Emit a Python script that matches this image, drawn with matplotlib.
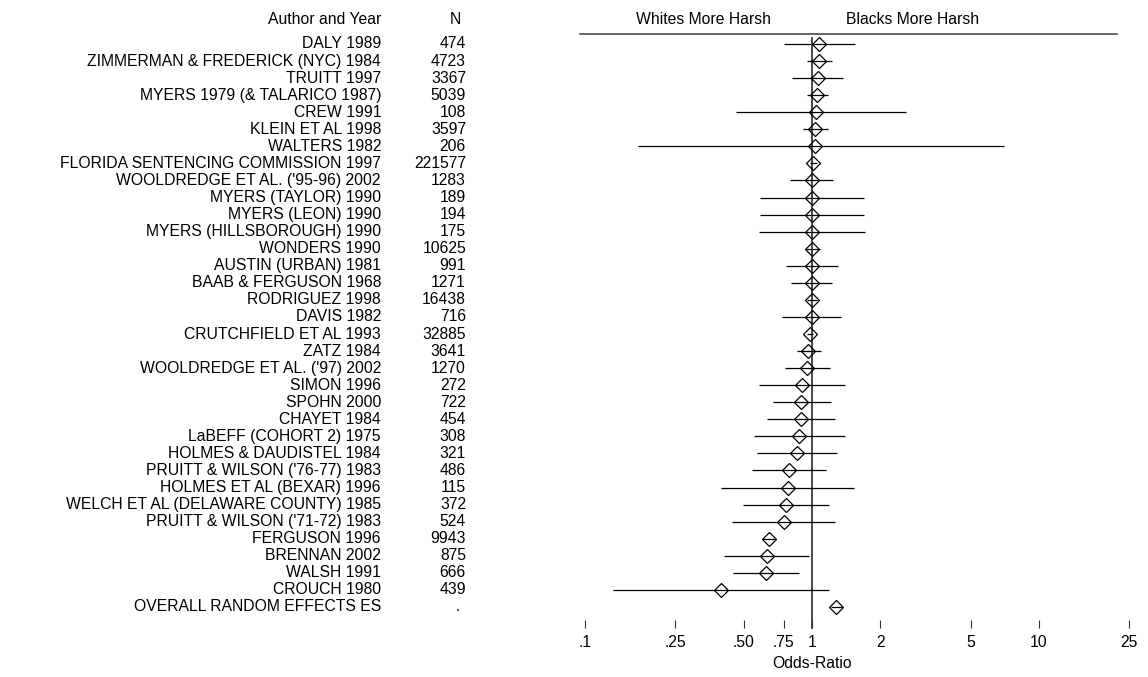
import matplotlib
matplotlib.use("Agg")
import matplotlib.pyplot as plt
from matplotlib.transforms import blended_transform_factory

plt.rcParams['font.family'] = ['Liberation Sans', 'DejaVu Sans']

authors = [
    "DALY 1989", "ZIMMERMAN & FREDERICK (NYC) 1984", "TRUITT 1997",
    "MYERS 1979 (& TALARICO 1987)", "CREW 1991", "KLEIN ET AL 1998",
    "WALTERS 1982", "FLORIDA SENTENCING COMMISSION 1997",
    "WOOLDREDGE ET AL. ('95-96) 2002", "MYERS (TAYLOR) 1990",
    "MYERS (LEON) 1990", "MYERS (HILLSBOROUGH) 1990", "WONDERS 1990",
    "AUSTIN (URBAN) 1981", "BAAB & FERGUSON 1968", "RODRIGUEZ 1998",
    "DAVIS 1982", "CRUTCHFIELD ET AL 1993", "ZATZ 1984",
    "WOOLDREDGE ET AL. ('97) 2002", "SIMON 1996", "SPOHN 2000",
    "CHAYET 1984", "LaBEFF (COHORT 2) 1975", "HOLMES & DAUDISTEL 1984",
    "PRUITT & WILSON ('76-77) 1983", "HOLMES ET AL (BEXAR) 1996",
    "WELCH ET AL (DELAWARE COUNTY) 1985", "PRUITT & WILSON ('71-72) 1983",
    "FERGUSON 1996", "BRENNAN 2002", "WALSH 1991", "CROUCH 1980",
    "OVERALL RANDOM EFFECTS ES",
]
n_values = [
    "474", "4723", "3367", "5039", "108", "3597", "206", "221577", "1283",
    "189", "194", "175", "10625", "991", "1271", "16438", "716", "32885",
    "3641", "1270", "272", "722", "454", "308", "321", "486", "115", "372",
    "524", "9943", "875", "666", "439", ".",
]
odds_ratio = [
    1.073, 1.073, 1.063, 1.055, 1.041, 1.031, 1.031, 1.015, 1.0, 1.0,
    1.0, 1.0, 1.0, 1.0, 1.0, 1.0, 1.0, 0.98, 0.963, 0.953, 0.904, 0.898,
    0.892, 0.876, 0.859, 0.792, 0.784, 0.77, 0.75, 0.645, 0.632, 0.629,
    0.397, 1.276,
]
ci_low = [
    0.755, 0.948, 0.814, 0.953, 0.463, 0.916, 0.172, 0.98, 0.80, 0.592,
    0.589, 0.585, 0.93, 0.766, 0.808, 0.95, 0.738, 0.95, 0.856, 0.760,
    0.586, 0.673, 0.634, 0.555, 0.573, 0.544, 0.399, 0.497, 0.446, 0.60,
    0.41, 0.449, 0.133, 1.21,
]
ci_high = [
    1.546, 1.221, 1.374, 1.173, 2.6, 1.173, 7.0, 1.05, 1.24, 1.689,
    1.70, 1.71, 1.08, 1.306, 1.229, 1.05, 1.338, 1.01, 1.092, 1.20,
    1.398, 1.21, 1.263, 1.397, 1.285, 1.149, 1.53, 1.192, 1.259, 0.694,
    0.97, 0.874, 1.184, 1.35,
]
tick_values = [0.1, 0.25, 0.5, 0.75, 1, 2, 5, 10, 25]
tick_labels = [".1", ".25", ".50", ".75", "1", "2", "5", "10", "25"]

W, H = 1148, 677
fig = plt.figure(figsize=(W / 100, H / 100), dpi=100)
ax_left, ax_right, ax_top, ax_bottom = 560, 1145, 30, 620
ax = fig.add_axes([ax_left / W, (H - ax_bottom) / H,
                   (ax_right - ax_left) / W, (ax_bottom - ax_top) / H])
ax.set_xscale('log')
ax.set_xlim(0.0776, 29.3)
row0, step = 44, 17.06
ax.set_ylim((ax_bottom - row0) / step, (ax_top - row0) / step)

rows = list(range(len(authors)))
for i in rows:
    ax.plot([ci_low[i], ci_high[i]], [i, i], color='black', lw=0.9,
            solid_capstyle='butt', zorder=2)
ax.plot(odds_ratio, rows, linestyle='none', marker='D', markersize=7.6,
        markerfacecolor='none', markeredgecolor='black',
        markeredgewidth=0.9, zorder=3)

# vertical reference line at OR = 1
ax.plot([1, 1], [(38 - row0) / step, (628 - row0) / step], color='#3a3a3a',
        lw=1.3, clip_on=False, zorder=1)
# header rule
ax.plot([(580 - ax_left) / (ax_right - ax_left), (1117 - ax_left) / (ax_right - ax_left)],
        [(ax_bottom - 34) / (ax_bottom - ax_top)] * 2, transform=ax.transAxes,
        color='#3a3a3a', lw=1.1, clip_on=False)

for sp in ax.spines.values():
    sp.set_visible(False)
ax.yaxis.set_visible(False)
ax.set_xticks(tick_values)
ax.set_xticklabels(tick_labels)
ax.xaxis.set_minor_locator(matplotlib.ticker.NullLocator())
ax.tick_params(axis='x', which='major', direction='out', length=6,
               width=0.8, color='#333333', pad=5, labelsize=11.3)

fs = 11.3
tr = blended_transform_factory(fig.transFigure, ax.transData)
for i in rows:
    ax.text(381 / W, i, authors[i], transform=tr, ha='right', va='center',
            fontsize=fs)
    if n_values[i] == ".":
        ax.text(458 / W, i, n_values[i], transform=tr, ha='center',
                va='center', fontsize=fs)
    else:
        ax.text(466 / W, i, n_values[i], transform=tr, ha='right',
                va='center', fontsize=fs)

hy = (20 - row0) / step
ax.text(381 / W, hy, "Author and Year", transform=tr, ha='right', va='center', fontsize=fs)
ax.text(455 / W, hy, "N", transform=tr, ha='center', va='center', fontsize=fs)
ax.text(704 / W, hy, "Whites More Harsh", transform=tr, ha='center', va='center', fontsize=fs)
ax.text(913 / W, hy, "Blacks More Harsh", transform=tr, ha='center', va='center', fontsize=fs)

fig.text(812 / W, 1 - 663 / H, "Odds-Ratio", ha='center', va='center', fontsize=fs)

fig.savefig("out.png", dpi=100)
